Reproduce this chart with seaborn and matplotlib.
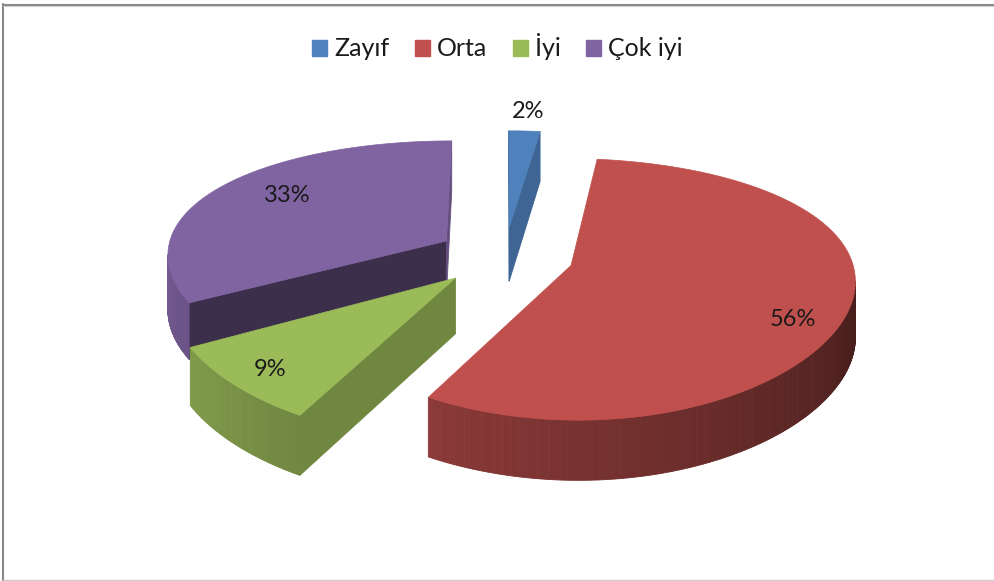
import numpy as np
import matplotlib
matplotlib.use("Agg")
import matplotlib.pyplot as plt
from matplotlib.patches import Patch, Polygon
from matplotlib.collections import PolyCollection
from matplotlib.lines import Line2D
import matplotlib.colors as mcolors
import seaborn as sns

# --- data ---
categories = ["Zayıf", "Orta", "İyi", "Çok iyi"]
values = [2, 56, 9, 33]
colors = ["#4F81BD", "#C0504D", "#9BBB59", "#8064A2"]
label_texts = [f"{v}%" for v in values]

# --- 3D view (pixel space) ---
W, HT = 995, 581
CX, CY = 505, 256
RX, RY = 280, 123
GX, GY, GZ = 0.10, 0.18, 0.08
DEPTH = 55
EXPLODE = 0.246
label_radius = [1.25, 0.8, 0.85, 0.7]
label_dy = [0, 21, 3, -6]

sns.set_theme(style="white")
plt.rcParams['font.family'] = ['Lato', 'DejaVu Sans']


def project(u, v, z=0.0):
    u = np.asarray(u, float)
    v = np.asarray(v, float)
    x = CX + RX * u / (1 + GX * v)
    y = CY - RY * v / (1 + GY * v) + z * DEPTH / (1 + GZ * v)
    return np.column_stack([np.atleast_1d(x), np.atleast_1d(y)])


def shade(c, f):
    r, g, b = mcolors.to_rgb(c)
    return (r * f, g * f, b * f)


def wall_factor(t):
    t = (t + 180) % 360 - 180
    return np.interp(t, [-180, -118, -20, 0, 180], [0.92, 0.72, 0.39, 0.36, 0.36])


def cut_factor(t):
    t = (t + 180) % 360 - 180
    return np.interp(t, [-180, -90, -61, -29, -7, 90, 180],
                     [0.85, 0.42, 0.47, 0.72, 0.78, 0.85, 0.85])


def side_quad(p1, p2):
    # p1, p2 on the top rim (disc coords); returns projected quad
    top = project([p1[0], p2[0]], [p1[1], p2[1]], 0)
    bot = project([p2[0], p1[0]], [p2[1], p1[1]], 1)
    return np.vstack([top, bot])


def visible(q):
    x, y = q[:, 0], q[:, 1]
    s = np.sum(x * np.roll(y, -1) - np.roll(x, -1) * y)
    return s < 0


fig = plt.figure(figsize=(W / 100, HT / 100), dpi=100)
ax = fig.add_axes([0, 0, 1, 1])
ax.set_xlim(0, W)
ax.set_ylim(HT, 0)
ax.axis('off')

fracs = np.array(values, float) / sum(values)
cum = np.concatenate([[0], np.cumsum(fracs)])
slices = []
for i in range(len(values)):
    t1 = 90 - cum[i] * 360
    t2 = 90 - cum[i + 1] * 360
    mid = np.radians((t1 + t2) / 2)
    off = EXPLODE * np.array([np.cos(mid), np.sin(mid)])
    slices.append((i, t1, t2, mid, off))

# back to front
for i, t1, t2, mid, off in sorted(slices, key=lambda s: -s[4][1]):
    n = max(int(abs(t1 - t2) * 2), 4)
    th = np.linspace(t1, t2, n)
    rim = np.column_stack([np.cos(np.radians(th)), np.sin(np.radians(th))]) + off

    polys, fcs = [], []
    # cut faces
    e1 = off + [np.cos(np.radians(t1)), np.sin(np.radians(t1))]
    e2 = off + [np.cos(np.radians(t2)), np.sin(np.radians(t2))]
    for p1, p2, nrm in [(off, e1, t1 + 90), (e2, off, t2 - 90)]:
        q = side_quad(p1, p2)
        if visible(q):
            polys.append(q)
            fcs.append(shade(colors[i], cut_factor(nrm)))
    # outer wall
    for j in range(n - 1):
        q = side_quad(rim[j], rim[j + 1])
        if visible(q):
            polys.append(q)
            fcs.append(shade(colors[i], wall_factor((th[j] + th[j + 1]) / 2)))
    if polys:
        ax.add_collection(PolyCollection(polys, facecolors=fcs, edgecolors=fcs,
                                         linewidths=0.6, antialiased=True))
    # top face
    top = project(np.r_[off[0], rim[:, 0]], np.r_[off[1], rim[:, 1]], 0)
    ax.add_patch(Polygon(top, closed=True, facecolor=colors[i],
                         edgecolor=colors[i], linewidth=0.5))

    # label
    r = label_radius[i]
    lp = project(off[0] + r * np.cos(mid), off[1] + r * np.sin(mid), 0)[0]
    ax.text(lp[0], lp[1] + label_dy[i], label_texts[i], ha='center', va='center',
            fontsize=17, color='#1a1a1a')

# legend
handles = [Patch(facecolor=c, edgecolor=c) for c in colors]
fig.legend(handles, categories, loc='upper center', bbox_to_anchor=(0.5, 1 - 11 / HT),
           ncol=4, frameon=False, fontsize=18, handlelength=0.6, handleheight=0.6,
           handletextpad=0.3, columnspacing=1.0, labelcolor='#1a1a1a')

# chart frame
fig.add_artist(Line2D([3.5 / W, 3.5 / W], [0, 1 - 4 / HT], transform=fig.transFigure,
                      color='#888888', linewidth=1.5))
fig.add_artist(Line2D([3 / W, 1], [1 - 4.5 / HT, 1 - 4.5 / HT], transform=fig.transFigure,
                      color='#888888', linewidth=1.5))
fig.add_artist(Line2D([3 / W, 1], [1 - 6 / HT, 1 - 6 / HT], transform=fig.transFigure,
                      color='#cfcfcf', linewidth=0.8))
fig.add_artist(Line2D([3 / W, 1], [1.5 / HT, 1.5 / HT], transform=fig.transFigure,
                      color='#cccccc', linewidth=1))

fig.savefig("out.png", dpi=100, facecolor='white')
